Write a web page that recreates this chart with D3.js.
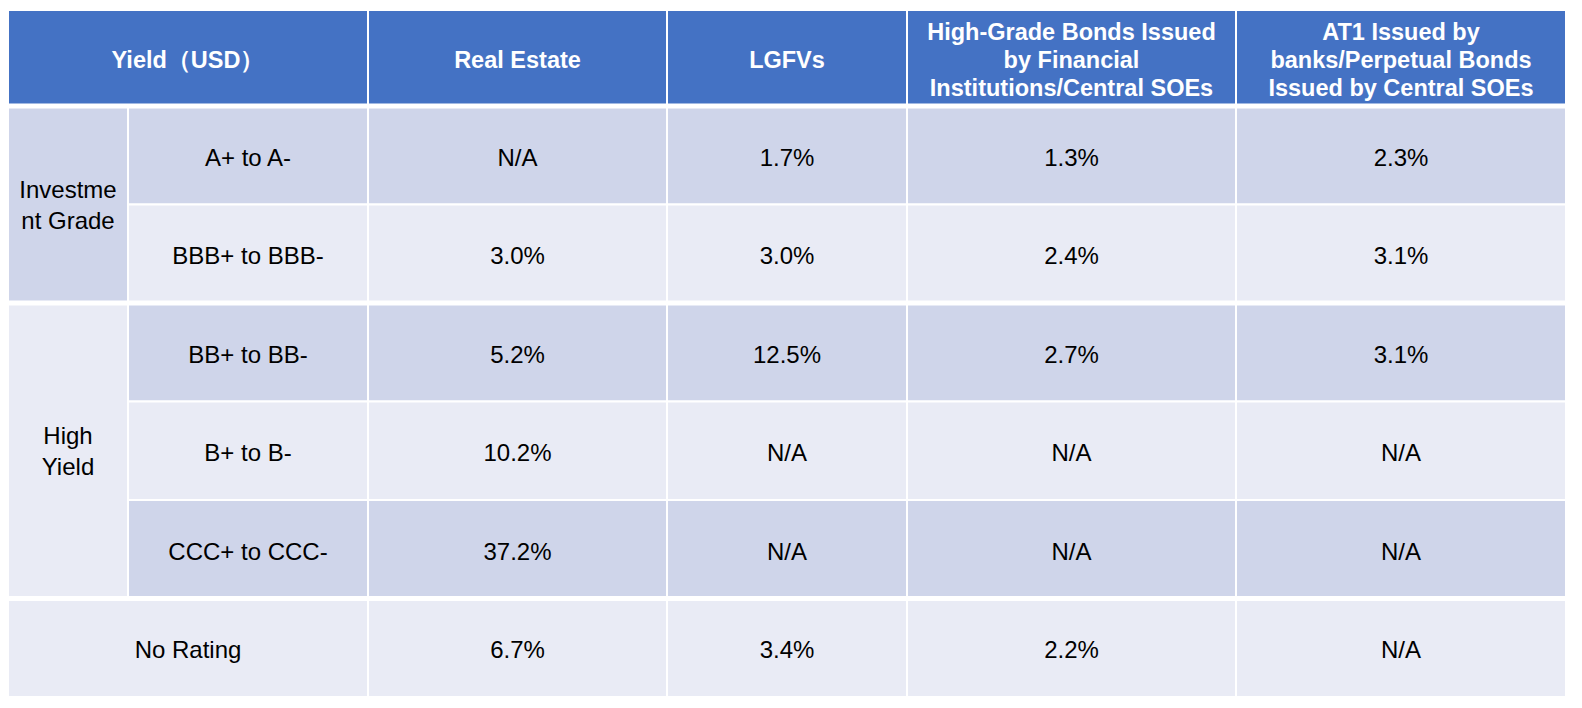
<!DOCTYPE html>
<html><head><meta charset="utf-8">
<script src="https://cdn.jsdelivr.net/npm/d3@7"></script>
<style>body{margin:0;background:#fff}</style>
</head><body>
<svg id="chart" width="1582" height="708"></svg>
<script>
var headers = [["Yield\uFF08USD\uFF09"], ["Real Estate"], ["LGFVs"],
  ["High-Grade Bonds Issued", "by Financial", "Institutions/Central SOEs"],
  ["AT1 Issued by", "banks/Perpetual Bonds", "Issued by Central SOEs"]];
var ratings = ["A+ to A-", "BBB+ to BBB-", "BB+ to BB-", "B+ to B-", "CCC+ to CCC-", "No Rating"];
var groups = [{label: ["Investme", "nt Grade"], from: 0, to: 1, dark: true},
              {label: ["High", "Yield"], from: 2, to: 4, dark: false}];
var realEstate = ["N/A", "3.0%", "5.2%", "10.2%", "37.2%", "6.7%"];
var lgfv = ["1.7%", "3.0%", "12.5%", "N/A", "N/A", "3.4%"];
var highGrade = ["1.3%", "2.4%", "2.7%", "N/A", "N/A", "2.2%"];
var at1 = ["2.3%", "3.1%", "3.1%", "N/A", "N/A", "N/A"];
var series = [realEstate, lgfv, highGrade, at1];

var colEdges = [8, 128, 368, 667, 907, 1236, 1566];
var svg = d3.select("#chart");
var font = "Liberation Sans, Arial, sans-serif";
var y = d3.scaleBand().domain(d3.range(ratings.length)).range([106, 697]).paddingInner(0);
var dark = "#cfd5ea", light = "#e9ebf5";

function cellText(x, yc, lines, opts) {
  var lh = opts.lh || 30;
  var size = opts.size || 24;
  var t = svg.append("text").attr("x", x).attr("text-anchor", "middle")
    .attr("font-family", font).attr("font-size", size)
    .attr("font-weight", opts.bold ? "bold" : "normal").attr("fill", opts.fill || "#000");
  lines.forEach(function (l, i) {
    t.append("tspan").attr("x", x).attr("y", yc + (i - (lines.length - 1) / 2) * lh + size * 0.36).text(l);
  });
}

// header
var hx = [colEdges[0], colEdges[2], colEdges[3], colEdges[4], colEdges[5], colEdges[6]];
headers.forEach(function (h, i) {
  svg.append("rect").attr("x", hx[i]).attr("y", 10).attr("width", hx[i + 1] - hx[i]).attr("height", 95)
    .attr("fill", "#4472c4").attr("stroke", "#fff").attr("stroke-width", 2);
  cellText((hx[i] + hx[i + 1]) / 2, 60, h, {bold: true, fill: "#fff", size: 23.5, lh: 28});
});

// rows
ratings.forEach(function (r, i) {
  var bg = i % 2 === 0 ? dark : light;
  var x0 = i === 5 ? colEdges[0] : colEdges[1];
  svg.append("rect").attr("x", x0).attr("y", y(i)).attr("width", colEdges[2] - x0).attr("height", y.bandwidth())
    .attr("fill", bg).attr("stroke", "#fff").attr("stroke-width", 2);
  cellText((x0 + colEdges[2]) / 2, y(i) + y.bandwidth() / 2 + 2, [r], {});
  series.forEach(function (s, j) {
    var a = colEdges[j + 2], b = colEdges[j + 3];
    svg.append("rect").attr("x", a).attr("y", y(i)).attr("width", b - a).attr("height", y.bandwidth())
      .attr("fill", bg).attr("stroke", "#fff").attr("stroke-width", 2);
    cellText((a + b) / 2, y(i) + y.bandwidth() / 2 + 2, [s[i]], {});
  });
});

groups.forEach(function (g) {
  var y0 = y(g.from), y1 = y(g.to) + y.bandwidth();
  svg.append("rect").attr("x", colEdges[0]).attr("y", y0).attr("width", colEdges[1] - colEdges[0]).attr("height", y1 - y0)
    .attr("fill", g.dark ? dark : light).attr("stroke", "#fff").attr("stroke-width", 2);
  cellText((colEdges[0] + colEdges[1]) / 2, (y0 + y1) / 2, g.label, {lh: 31});
});

// thicker separators between groups
[y(0), y(2), y(5)].forEach(function (v) {
  svg.append("line").attr("x1", colEdges[0]).attr("x2", colEdges[6]).attr("y1", v).attr("y2", v)
    .attr("stroke", "#fff").attr("stroke-width", 5);
});
</script>
</body></html>
